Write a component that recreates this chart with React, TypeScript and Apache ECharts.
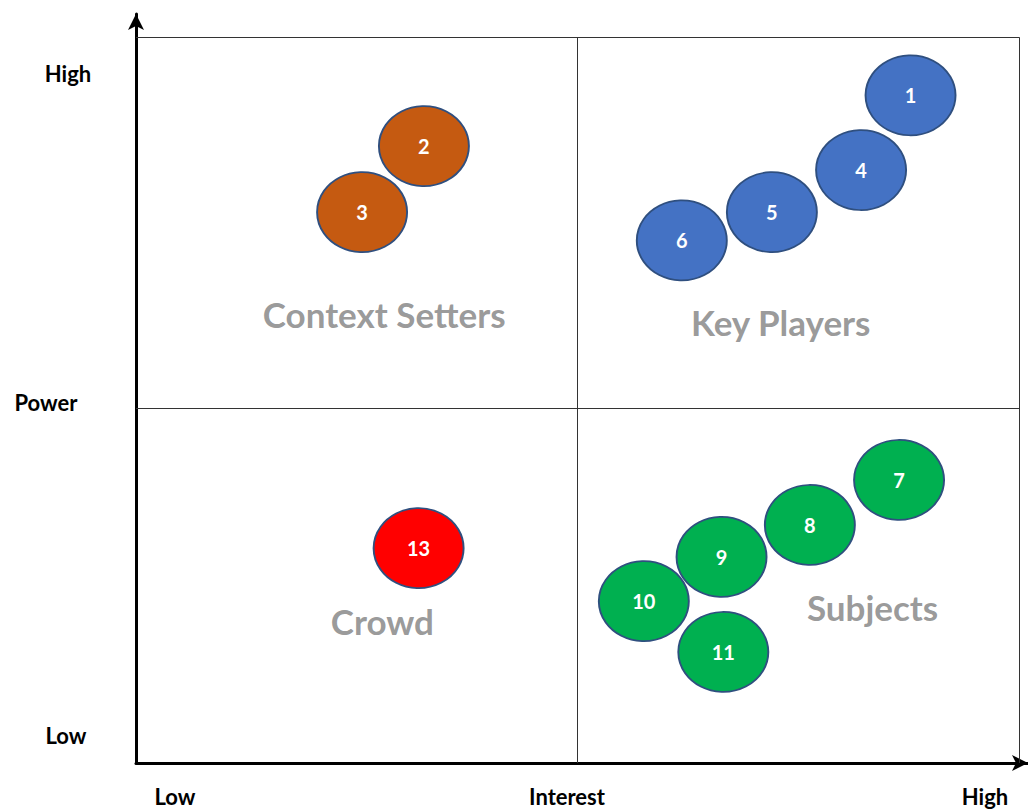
import React, { useEffect, useRef } from "react";
import * as echarts from "echarts";

const keyIds = ["1", "4", "5", "6"];
const keyInterest = [8.77, 8.21, 7.2, 6.18];
const keyPower = [9.2, 8.17, 7.59, 7.2];

const ctxIds = ["2", "3"];
const ctxInterest = [3.26, 2.56];
const ctxPower = [8.5, 7.59];

const subIds = ["7", "8", "9", "10", "11"];
const subInterest = [8.64, 7.63, 6.63, 5.75, 6.65];
const subPower = [3.9, 3.28, 2.84, 2.23, 1.53];

const crowdIds = ["13"];
const crowdInterest = [3.2];
const crowdPower = [2.96];

const quadNames = ["Context Setters", "Key Players", "Crowd", "Subjects"];
const quadInterest = [2.81, 7.3, 2.79, 8.34];
const quadPower = [6.18, 6.07, 1.96, 2.15];

const FONT = "Lato, 'Open Sans', sans-serif";

function bubbleSeries(name: string, ids: string[], xs: number[], ys: number[], color: string) {
  return {
    name,
    type: "scatter",
    symbol: "circle",
    symbolSize: [90, 80],
    itemStyle: { color, borderColor: "#2F4F7F", borderWidth: 1.8, opacity: 1 },
    label: {
      show: true,
      position: "inside",
      formatter: (p: any) => p.data[2],
      color: "#ffffff",
      fontWeight: "bold",
      fontSize: 20,
      fontFamily: FONT,
    },
    data: ids.map((id, i) => [xs[i], ys[i], id]),
    z: 5,
  };
}

export default function App() {
  const ref = useRef<HTMLDivElement>(null);
  useEffect(() => {
    if (!ref.current) return;
    const chart = echarts.init(ref.current, null, { renderer: "svg" });
    const axisLabelStyle = { fill: "#000", font: `bold 22px ${FONT}`, textAlign: "center", textVerticalAlign: "middle" };
    chart.setOption({
      animation: false,
      backgroundColor: "#ffffff",
      grid: { left: 136, right: 0, top: 14, bottom: 48 },
      xAxis: {
        type: "value",
        min: 0,
        max: 10.1,
        axisLine: { show: true, onZero: false, symbol: ["none", "arrow"], symbolSize: [12, 16], lineStyle: { color: "#000", width: 3 } },
        axisTick: { show: false },
        axisLabel: { show: false },
        splitLine: { show: false },
      },
      yAxis: {
        type: "value",
        min: 0,
        max: 10.32,
        axisLine: { show: true, onZero: false, symbol: ["none", "arrow"], symbolSize: [12, 16], lineStyle: { color: "#000", width: 3 } },
        axisTick: { show: false },
        axisLabel: { show: false },
        splitLine: { show: false },
      },
      graphic: [
        { type: "text", x: 68, y: 73, style: { ...axisLabelStyle, text: "High" } },
        { type: "text", x: 46, y: 402, style: { ...axisLabelStyle, text: "Power" } },
        { type: "text", x: 66, y: 735, style: { ...axisLabelStyle, text: "Low" } },
        { type: "text", x: 175, y: 796, style: { ...axisLabelStyle, text: "Low" } },
        { type: "text", x: 567, y: 796, style: { ...axisLabelStyle, text: "Interest" } },
        { type: "text", x: 985, y: 796, style: { ...axisLabelStyle, text: "High" } },
      ],
      series: [
        {
          name: "quadrants",
          type: "scatter",
          symbolSize: 0,
          silent: true,
          label: {
            show: true,
            position: "inside",
            formatter: (p: any) => p.data[2],
            color: "#808080",
            fontWeight: "bold",
            fontSize: 35,
            fontFamily: FONT,
          },
          data: quadNames.map((n, i) => [quadInterest[i], quadPower[i], n]),
          markLine: {
            silent: true,
            symbol: "none",
            label: { show: false },
            lineStyle: { type: "solid", color: "#333", width: 1 },
            data: [
              [{ coord: [0, 10] }, { coord: [10, 10] }],
              [{ coord: [10, 0] }, { coord: [10, 10] }],
              [{ coord: [5, 0] }, { coord: [5, 10] }],
              [{ coord: [0, 4.89] }, { coord: [10, 4.89] }],
            ],
          },
          z: 2,
        },
        bubbleSeries("Key Players", keyIds, keyInterest, keyPower, "#4472C4"),
        bubbleSeries("Context Setters", ctxIds, ctxInterest, ctxPower, "#C55A11"),
        bubbleSeries("Subjects", subIds, subInterest, subPower, "#00B050"),
        bubbleSeries("Crowd", crowdIds, crowdInterest, crowdPower, "#FF0000"),
      ],
    });
    return () => chart.dispose();
  }, []);
  return <div ref={ref} style={{ position: "fixed", left: 0, top: 0, width: 1028, height: 811 }} />;
}
